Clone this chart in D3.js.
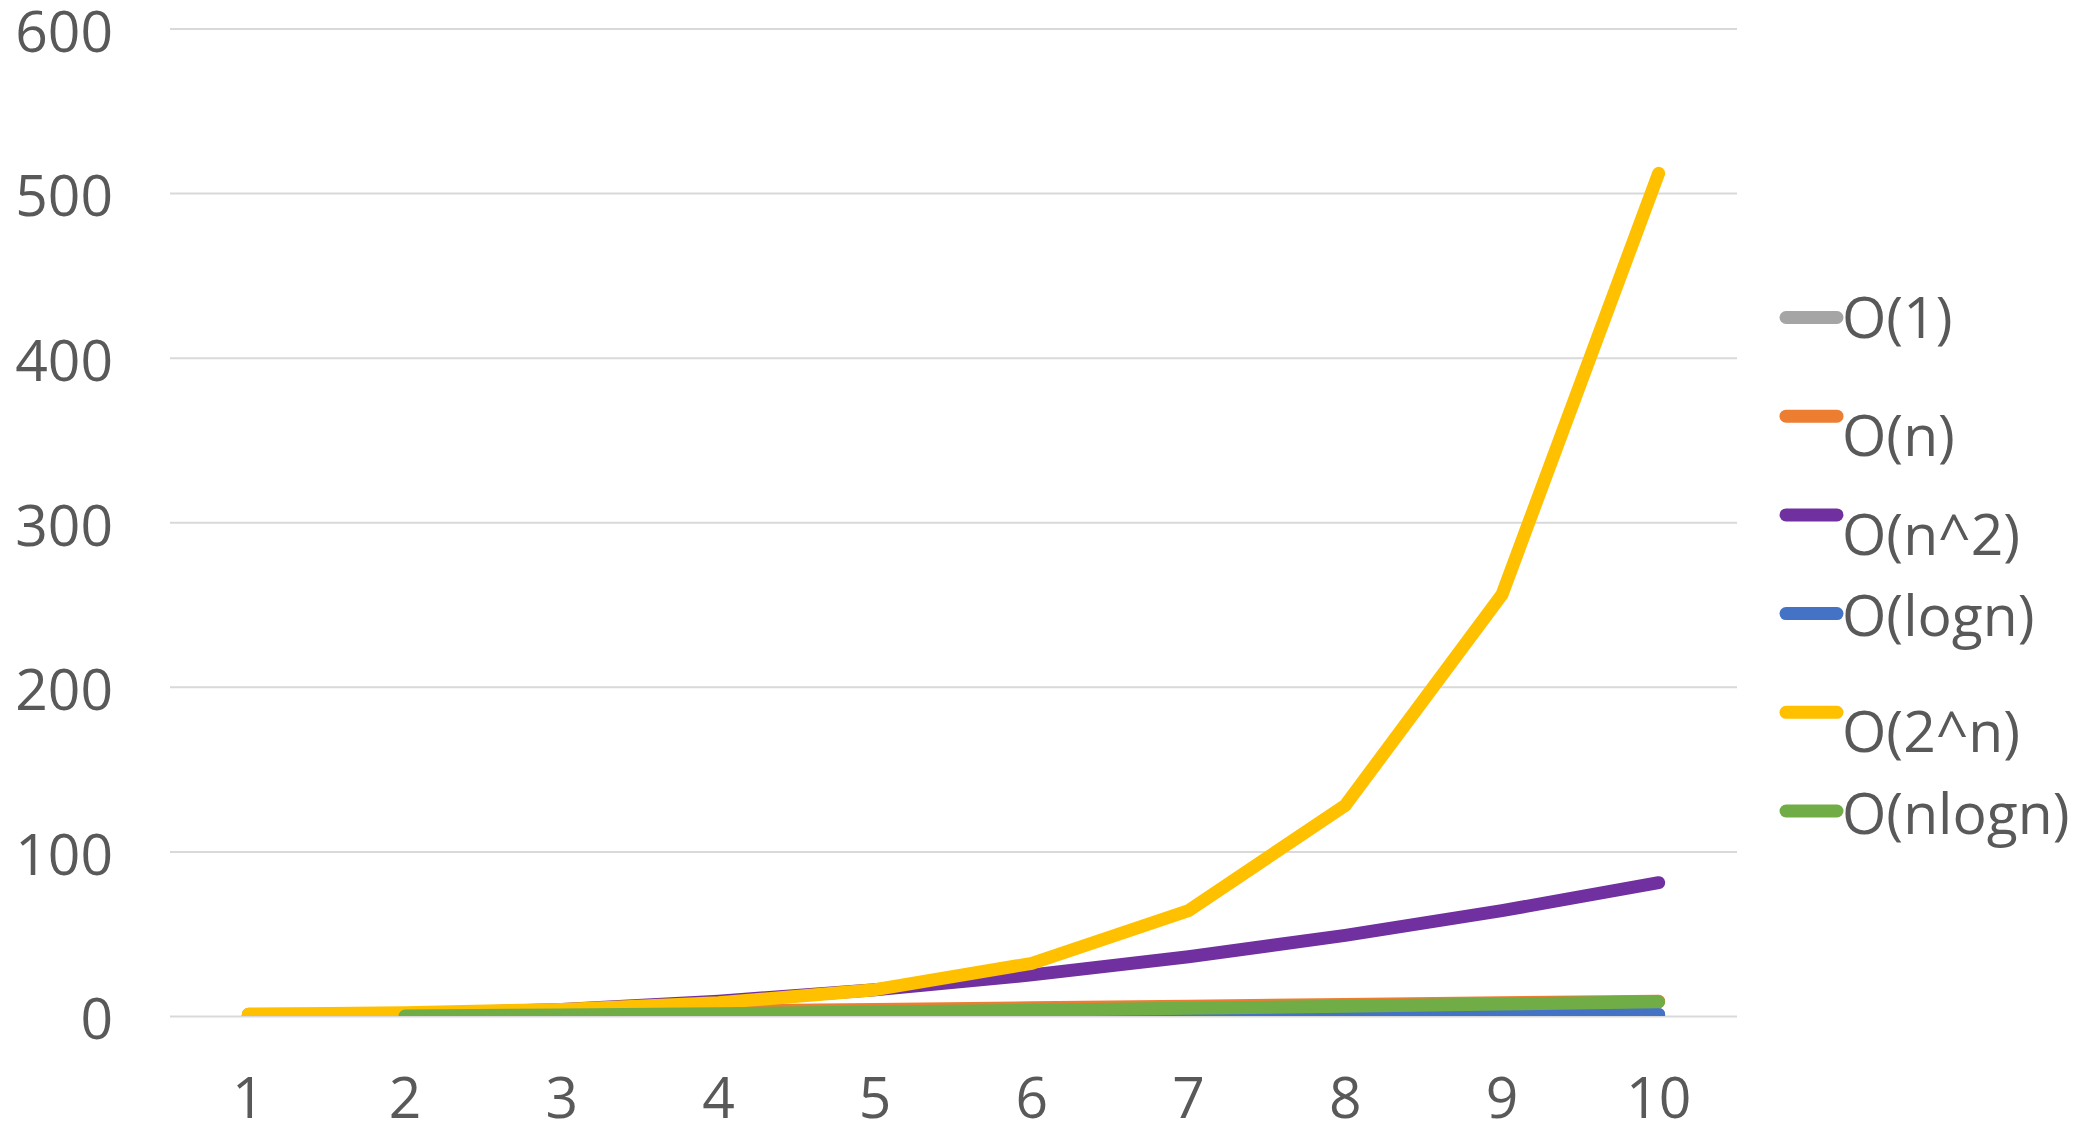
<!DOCTYPE html>
<html>
<head>
<meta charset="utf-8">
<script src="https://cdn.jsdelivr.net/npm/d3@7"></script>
<style>
  html, body { margin: 0; padding: 0; background: #ffffff; }
  svg { display: block; }
  text { font-family: "Open Sans", "Noto Sans", sans-serif; fill: #595959; }
</style>
</head>
<body>
<svg id="chart" width="2088" height="1126"></svg>
<script>
// ---- data ----
const categories = ["1", "2", "3", "4", "5", "6", "7", "8", "9", "10"];
const seriesNames = ["O(1)", "O(n)", "O(n^2)", "O(logn)", "O(2^n)", "O(nlogn)"];
const valuesO1 = [1, 1, 1, 1, 1, 1, 1, 1, 1, 1];
const valuesOn = [0, 1, 2, 3, 4, 5, 6, 7, 8, 9];
const valuesOn2 = [0, 1, 4, 9, 16, 25, 36, 49, 64, 81];
const valuesOlogn = [null, 0, 0.3, 0.48, 0.6, 0.7, 0.78, 0.85, 0.9, 0.95];
const valuesO2n = [1, 2, 4, 8, 16, 32, 64, 128, 256, 512];
const valuesOnlogn = [null, 0, 0.6, 1.43, 2.41, 3.49, 4.67, 5.92, 7.22, 8.59];
const yTicks = [0, 100, 200, 300, 400, 500, 600];

// ---- styles / layout ----
const seriesColors = ["#A5A5A5", "#ED7D31", "#7030A0", "#4472C4", "#FFC000", "#70AD47"];
const seriesValues = [valuesO1, valuesOn, valuesOn2, valuesOlogn, valuesO2n, valuesOnlogn];
const legendTextDy = [20, 40, 40, 22, 40, 23];

const plot = { left: 170, right: 1737, top: 28.5, bottom: 1016 };
const fontSize = 57;

const svg = d3.select("#chart");

const x = d3.scaleBand().domain(categories).range([plot.left, plot.right]);
const y = d3.scaleLinear().domain([0, 600]).range([plot.bottom, plot.top]);
const cx = c => x(c) + x.bandwidth() / 2;

// gridlines
svg.append("g")
  .attr("transform", `translate(${plot.left},0)`)
  .call(d3.axisLeft(y).tickValues(yTicks).tickSize(-(plot.right - plot.left)).tickFormat(""))
  .call(g => g.select(".domain").remove())
  .call(g => g.selectAll("line").attr("stroke", "#d9d9d9").attr("stroke-width", 2));

// y labels
svg.append("g")
  .attr("transform", `translate(${plot.left},0)`)
  .call(d3.axisLeft(y).tickValues(yTicks).tickSize(0).tickPadding(57))
  .call(g => g.select(".domain").remove())
  .call(g => g.selectAll("text")
    .attr("font-size", fontSize)
    .attr("font-family", null)
    .attr("fill", "#595959")
    .attr("dy", "0.4em"));

// x labels
svg.append("g")
  .attr("transform", `translate(0,${plot.bottom})`)
  .call(d3.axisBottom(x).tickSize(0).tickPadding(62))
  .call(g => g.select(".domain").remove())
  .call(g => g.selectAll("text")
    .attr("font-size", fontSize)
    .attr("font-family", null)
    .attr("fill", "#595959"));

// clip
svg.append("defs").append("clipPath").attr("id", "plotClip")
  .append("rect")
  .attr("x", 0).attr("y", 0)
  .attr("width", 2088).attr("height", plot.bottom);

const line = d3.line()
  .defined(d => d.v !== null)
  .x(d => cx(d.c))
  .y(d => y(d.v));

const lines = svg.append("g").attr("clip-path", "url(#plotClip)");
seriesNames.forEach((name, i) => {
  const data = categories.map((c, j) => ({ c, v: seriesValues[i][j] }));
  lines.append("path")
    .datum(data)
    .attr("fill", "none")
    .attr("stroke", seriesColors[i])
    .attr("stroke-width", 13)
    .attr("stroke-linecap", "round")
    .attr("stroke-linejoin", "round")
    .attr("d", line);
});

// legend
const legend = svg.append("g");
const legendY = d3.scalePoint().domain(seriesNames).range([317.5, 811]);
seriesNames.forEach((name, i) => {
  const ly = legendY(name);
  legend.append("line")
    .attr("x1", 1786).attr("x2", 1837)
    .attr("y1", ly).attr("y2", ly)
    .attr("stroke", seriesColors[i])
    .attr("stroke-width", 13)
    .attr("stroke-linecap", "round");
  legend.append("text")
    .attr("x", 1842)
    .attr("y", ly + legendTextDy[i])
    .attr("font-size", 57)
    .text(name);
});
</script>
</body>
</html>
